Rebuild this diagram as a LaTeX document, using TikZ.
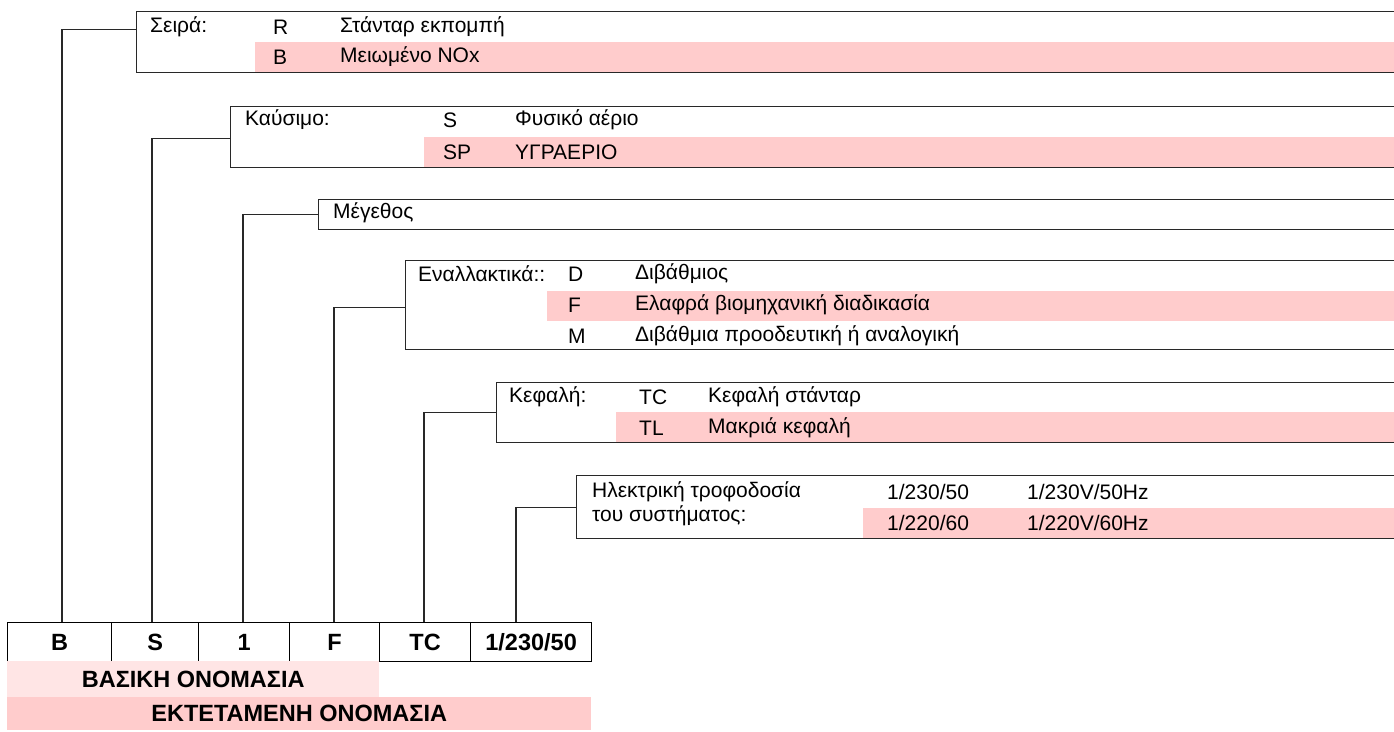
\documentclass[tikz,border=0pt]{standalone}
\usepackage{fontspec}
\setmainfont{Liberation Sans}
\definecolor{pinkrow}{RGB}{255,204,204}
\definecolor{pinklight}{RGB}{255,229,229}
\definecolor{lineg}{RGB}{40,40,40}
\begin{document}
\begin{tikzpicture}[x=1pt,y=-1pt,
  boxn/.style={draw=lineg,line width=1.2pt,rectangle,inner sep=0pt,anchor=north west},
  txt/.style={anchor=west,inner sep=0pt,font=\fontsize{21}{25}\selectfont},
  conn/.style={draw=lineg,line width=1.1pt},
  cell/.style={draw=black,line width=1.2pt,rectangle,inner sep=0pt,anchor=north west,minimum height=39pt,font=\fontsize{23.5}{28}\selectfont\bfseries},
  bar/.style={rectangle,inner sep=0pt,anchor=north west,font=\fontsize{23.5}{28}\selectfont\bfseries}]
\useasboundingbox (0,0) rectangle (1394,731);
\fill[white] (0,0) rectangle (1394,731);
% pink rows
\fill[pinkrow] (255,42) rectangle (1400,72);
\fill[pinkrow] (424,137) rectangle (1400,167);
\fill[pinkrow] (547,291) rectangle (1400,321);
\fill[pinkrow] (616,412) rectangle (1400,442);
\fill[pinkrow] (863,508) rectangle (1400,538);
% boxes
\node[boxn,minimum width=1264pt,minimum height=61pt] (b1) at (136,11) {};
\node[boxn,minimum width=1170pt,minimum height=61pt] (b2) at (230,106) {};
\node[boxn,minimum width=1082pt,minimum height=30pt] (b3) at (318,199) {};
\node[boxn,minimum width=995pt,minimum height=89pt] (b4) at (405,260) {};
\node[boxn,minimum width=904pt,minimum height=60pt] (b5) at (496,382) {};
\node[boxn,minimum width=824pt,minimum height=63pt] (b6) at (576,475) {};
% box texts
\node[txt] (s1) at (150,27) {Σειρά:};
\node[txt] (s2) at (273,27) {R};
\node[txt] (s3) at (340,27) {Στάνταρ εκπομπή};
\node[txt] (s4) at (273,57) {B};
\node[txt] (s5) at (340,57) {Μειωμένο NOx};
\node[txt] (k1) at (245,120) {Καύσιμο:};
\node[txt] (k2) at (443,120) {S};
\node[txt] (k3) at (515,120) {Φυσικό αέριο};
\node[txt] (k4) at (443,152) {SP};
\node[txt] (k5) at (515,152) {ΥΓΡΑΕΡΙΟ};
\node[txt] (m1) at (333,213) {Μέγεθος};
\node[txt] (a1) at (418,274) {Εναλλακτικά::};
\node[txt] (a2) at (568,274) {D};
\node[txt] (a3) at (635,274) {Διβάθμιος};
\node[txt] (a4) at (568,305) {F};
\node[txt] (a5) at (635,305) {Ελαφρά βιομηχανική διαδικασία};
\node[txt] (a6) at (568,336) {M};
\node[txt] (a7) at (635,336) {Διβάθμια προοδευτική ή αναλογική};
\node[txt] (h1) at (509,397) {Κεφαλή:};
\node[txt] (h2) at (639,397) {TC};
\node[txt] (h3) at (708,397) {Κεφαλή στάνταρ};
\node[txt] (h4) at (639,428) {TL};
\node[txt] (h5) at (708,428) {Μακριά κεφαλή};
\node[txt] (p1) at (592,492) {Ηλεκτρική τροφοδοσία};
\node[txt] (p2) at (592,516) {του συστήματος:};
\node[txt] (p3) at (887,492) {1/230/50};
\node[txt] (p4) at (1027,492) {1/230V/50Hz};
\node[txt] (p5) at (887,523) {1/220/60};
\node[txt] (p6) at (1027,523) {1/220V/60Hz};
% bottom table
\node[cell,minimum width=104pt] (t1) at (7,622) {B};
\node[cell,minimum width=87pt] (t2) at (111,622) {S};
\node[cell,minimum width=91pt] (t3) at (198,622) {1};
\node[cell,minimum width=90pt] (t4) at (289,622) {F};
\node[cell,minimum width=91pt] (t5) at (379,622) {TC};
\node[cell,minimum width=121pt] (t6) at (470,622) {1/230/50};
\node[bar,fill=pinklight,minimum width=372pt,minimum height=36pt] (n1) at (7,661) {ΒΑΣΙΚΗ ΟΝΟΜΑΣΙΑ};
\node[bar,fill=pinkrow,minimum width=584pt,minimum height=33pt] (n2) at (7,697) {ΕΚΤΕΤΑΜΕΝΗ ΟΝΟΜΑΣΙΑ};
% connector ends
\coordinate (e1) at (62,622);
\coordinate (e2) at (152,622);
\coordinate (e3) at (243,622);
\coordinate (e4) at (334,622);
\coordinate (e5) at (424,622);
\coordinate (e6) at (516,622);
\draw[conn] ([yshift=13pt]b1.west) -| (e1);
\draw[conn] ([yshift=-1.5pt]b2.west) -| (e2);
\draw[conn] (b3.west) -| (e3);
\draw[conn] ([yshift=-2.5pt]b4.west) -| (e4);
\draw[conn] (b5.west) -| (e5);
\draw[conn] (b6.west) -| (e6);
\end{tikzpicture}
\end{document}
